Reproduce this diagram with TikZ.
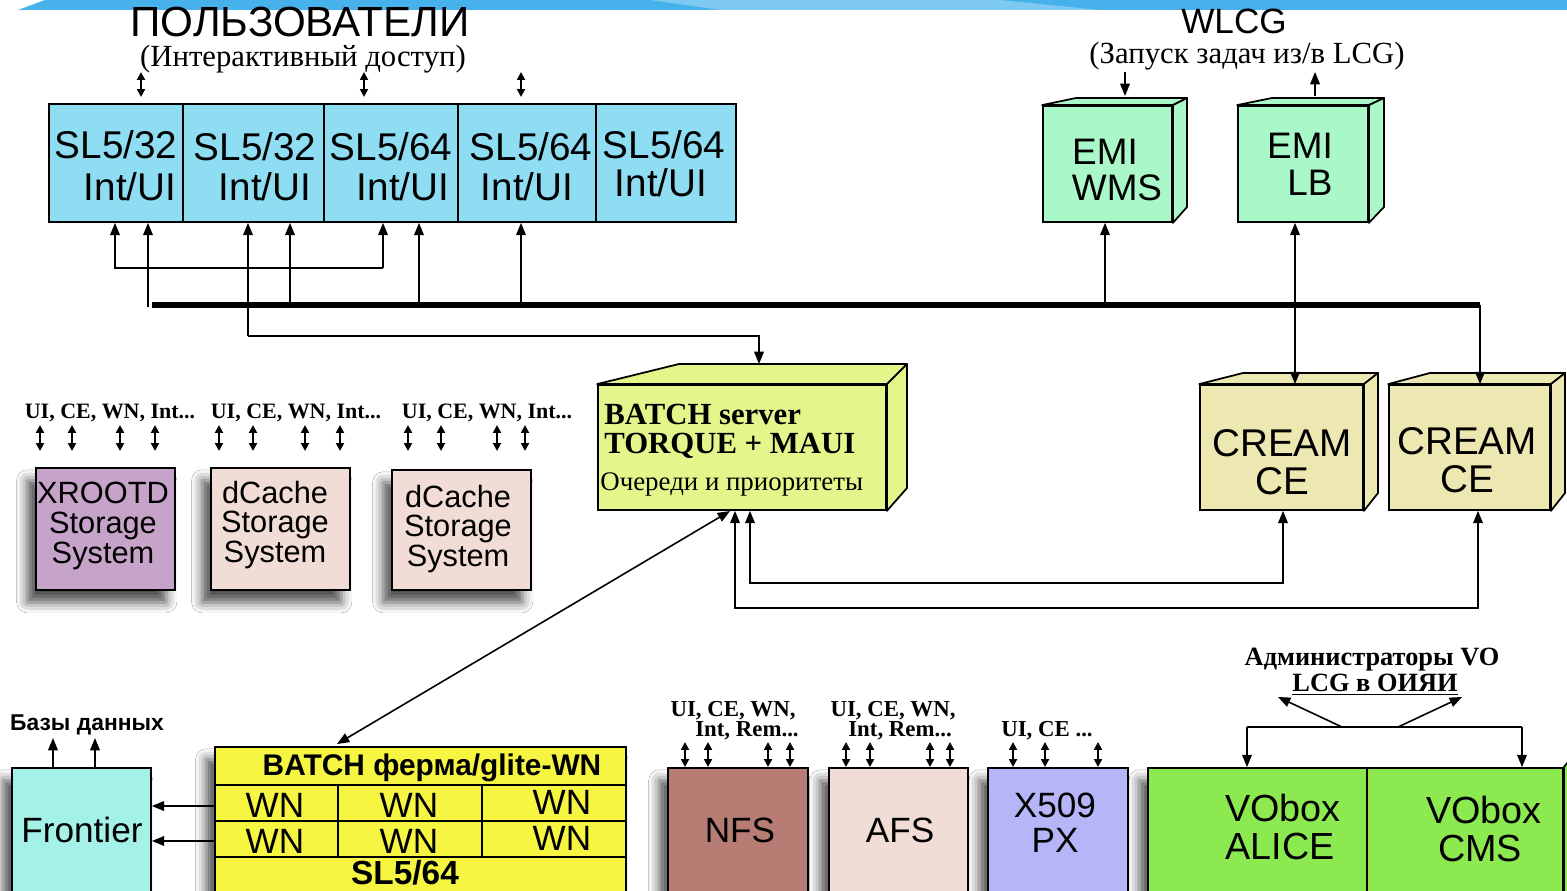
\documentclass[tikz,border=0pt]{standalone}
\usepackage{fontspec}
\setmainfont{Liberation Serif}
\setsansfont{Liberation Sans}
\usetikzlibrary{arrows.meta,fit,shadows.blur}
\definecolor{ucyan}{HTML}{8FDDF3}
\definecolor{emigreen}{HTML}{AAF7C9}
\definecolor{batchgreen}{HTML}{E2F68C}
\definecolor{creamc}{HTML}{EDE7B2}
\definecolor{xrootc}{HTML}{C6A3C9}
\definecolor{dcachec}{HTML}{F1DDD6}
\definecolor{frontc}{HTML}{A3F1E7}
\definecolor{farmc}{HTML}{F6F542}
\definecolor{nfsc}{HTML}{B77C74}
\definecolor{afsc}{HTML}{F1DDD6}
\definecolor{x509c}{HTML}{B5B5F8}
\definecolor{voc}{HTML}{8CE94F}
\definecolor{bandd}{HTML}{46B1EB}
\definecolor{bandl}{HTML}{7DC9F2}
\begin{document}
\begin{tikzpicture}[x=0.02cm,y=-0.02cm,
  box/.style={draw=black,line width=1pt,inner sep=0pt},
  face/.style={draw=black,line width=1pt,line join=round},
  shad/.style={blur shadow={shadow xshift=-5pt,shadow yshift=-7pt,shadow blur radius=6pt,shadow opacity=70}},
  conn/.style={line width=0.9pt,-{Triangle[length=7pt,width=5.5pt]}},
  dconn/.style={line width=0.9pt,{Triangle[length=7pt,width=5.5pt]}-{Triangle[length=7pt,width=5.5pt]}},
  sdbl/.style={line width=1.1pt,{Triangle[length=4.5pt,width=4.5pt]}-{Triangle[length=4.5pt,width=4.5pt]}},
  plain/.style={line width=0.9pt},
  bus/.style={line width=3.6pt},
  txt/.style={inner sep=0pt,font=\sffamily\fontsize{#1}{#1}\selectfont},
  txtb/.style={inner sep=0pt,font=\sffamily\bfseries\fontsize{#1}{#1}\selectfont},
  ser/.style={inner sep=0pt,font=\rmfamily\fontsize{#1}{#1}\selectfont},
  serb/.style={inner sep=0pt,font=\rmfamily\bfseries\fontsize{#1}{#1}\selectfont},
  stor/.style={inner sep=0pt,align=center,font=\sffamily\fontsize{17.5}{17}\selectfont},
]
\useasboundingbox (0,0) rectangle (1567,891);
\fill[white] (0,0) rectangle (1567,891);
% top band
\fill[bandd] (18,10) -- (45,0) -- (1567,0) -- (1567,10) -- cycle;
\fill[bandl] (650,0) -- (1000,0) -- (1100,10) -- (720,10) -- cycle;

% titles
\node[txt=24] (users) at (300,22) {ПОЛЬЗОВАТЕЛИ};
\node[ser=17.5] (usersub) at (303,59) {(Интерактивный доступ)};
\node[txt=20] (wlcg) at (1234,21) {WLCG};
\node[ser=17.5] (wlcgsub) at (1247,56) {(Запуск задач из/в LCG)};

% top row of UI machines
\node[box,fill=ucyan,fit={(49,104)(183,222)}] (c1) {};
\node[box,fill=ucyan,fit={(183,104)(324,222)}] (c2) {};
\node[box,fill=ucyan,fit={(324,104)(458,222)}] (c3) {};
\node[box,fill=ucyan,fit={(458,104)(596,222)}] (c4) {};
\node[box,fill=ucyan,fit={(596,104)(736,222)}] (c5) {};
\node[txt=22] (c1a) at (116,145) {SL5/32};
\node[txt=22] (c1b) at (130,187) {Int/UI};
\node[txt=22] (c2a) at (255,147) {SL5/32};
\node[txt=22] (c2b) at (265,187) {Int/UI};
\node[txt=22] (c3a) at (391,147) {SL5/64};
\node[txt=22] (c3b) at (403,187) {Int/UI};
\node[txt=22] (c4a) at (531,147) {SL5/64};
\node[txt=22] (c4b) at (527,187) {Int/UI};
\node[txt=22] (c5a) at (664,145) {SL5/64};
\node[txt=22] (c5b) at (661,183) {Int/UI};

% user access arrows
\foreach \x [count=\i] in {141,364,521} {
  \coordinate (ua\i) at (\x,72);
  \draw[sdbl] (ua\i) -- ++(0,25);
}

% EMI boxes (3D)
\node[box,fill=emigreen,fit={(1043,106)(1172,222)}] (wms) {};
\filldraw[face,fill=emigreen] (wms.north west) -- (1076,98) -- (1187,98) -- (wms.north east) -- cycle;
\filldraw[face,fill=emigreen] (wms.north east) -- (1187,98) -- (1187,207) -- (wms.south east) -- cycle;
\node[txt=21] (wmsa) at (1105,152) {EMI};
\node[txt=21] (wmsb) at (1117,188) {WMS};

\node[box,fill=emigreen,fit={(1238,106)(1368,222)}] (lb) {};
\filldraw[face,fill=emigreen] (lb.north west) -- (1272,98) -- (1384,98) -- (lb.north east) -- cycle;
\filldraw[face,fill=emigreen] (lb.north east) -- (1384,98) -- (1384,207) -- (lb.south east) -- cycle;
\node[txt=21] (lba) at (1300,146) {EMI};
\node[txt=21] (lbb) at (1310,183) {LB};

\coordinate (w1) at (1125,72);
\draw[conn] (w1) -- (w1 |- 0,96);
\coordinate (w2) at (1315,72);
\draw[conn] (w2 |- 0,96) -- (w2);

% BATCH server (3D)
\node[box,fill=batchgreen,fit={(598,385)(886,510)}] (bs) {};
\coordinate (bbl) at (679,364);
\filldraw[face,fill=batchgreen] (bs.north west) -- (bbl) -- (907,364) -- (bs.north east) -- cycle;
\filldraw[face,fill=batchgreen] (bs.north east) -- (907,364) -- (907,488) -- (bs.south east) -- cycle;
\node[serb=17.5,anchor=west] (bsa) at (604,414) {BATCH server};
\node[serb=17.5,anchor=west] (bsb) at (604,446) {TORQUE + MAUI};
\node[ser=15.3,anchor=west] (bsc) at (600,484) {Очереди и приоритеты};

% CREAM CEs (3D)
\node[box,fill=creamc,fit={(1200,385)(1363,510)}] (cr1) {};
\filldraw[face,fill=creamc] (cr1.north west) -- (1243,373) -- (1378,373) -- (cr1.north east) -- cycle;
\filldraw[face,fill=creamc] (cr1.north east) -- (1378,373) -- (1378,493) -- (cr1.south east) -- cycle;
\node[txt=22] (cr1a) at (1282,443) {CREAM};
\node[txt=22] (cr1b) at (1282,481) {CE};

\node[box,fill=creamc,fit={(1389,385)(1550,510)}] (cr2) {};
\filldraw[face,fill=creamc] (cr2.north west) -- (1430,373) -- (1565,373) -- (cr2.north east) -- cycle;
\filldraw[face,fill=creamc] (cr2.north east) -- (1565,373) -- (1565,493) -- (cr2.south east) -- cycle;
\node[txt=22] (cr2a) at (1467,441) {CREAM};
\node[txt=22] (cr2b) at (1467,479) {CE};

% bus and connections
\coordinate (busL) at (152,305);
\coordinate (busR) at (1480,305);
\draw[bus] (busL) -- (busR);
\coordinate (t1) at (148,307);
\coordinate (t2) at (290,305);
\coordinate (t3) at (419,305);
\coordinate (t4) at (521,305);
\draw[conn] (t1) -- (t1 |- c1.south);
\draw[conn] (t2) -- (t2 |- c2.south);
\draw[conn] (t3) -- (t3 |- c3.south);
\draw[conn] (t4) -- (t4 |- c4.south);
\coordinate (l1) at (115,268);
\coordinate (l2) at (383,268);
\draw[conn] (l2) -- (l2 |- c3.south);
\draw[conn] (l2) -- (l1) -- (l1 |- c1.south);
\coordinate (k1) at (248,336);
\coordinate (k2) at (759,336);
\draw[conn] (k1) -- (k1 |- c2.south);
\draw[conn] (k1) -- (k2) -- (k2 |- bbl);
\coordinate (t5) at (1105,305);
\draw[conn] (t5) -- (t5 |- wms.south);
\coordinate (t6) at (1295,305);
\draw[dconn] (t6 |- lb.south) -- (t6 |- cr1.north);
\draw[conn] (busR) -- (busR |- cr2.north);

% batch <-> CREAM loops
\coordinate (m1) at (1283,583);
\coordinate (m2) at (750,583);
\draw[dconn] (m1 |- cr1.south) -- (m1) -- (m2) -- (m2 |- bs.south);
\coordinate (n1) at (1478,608);
\coordinate (n2) at (735,608);
\draw[dconn] (n1 |- cr2.south) -- (n1) -- (n2) -- (n2 |- bs.south);

% storage systems
\node[serb=12.5] (sl1) at (110,413) {UI, CE, WN, Int...};
\node[serb=12.5] (sl2) at (296,413) {UI, CE, WN, Int...};
\node[serb=12.5] (sl3) at (487,413) {UI, CE, WN, Int...};
\foreach \x [count=\i] in {40,72,120,155,219,253,305,340,408,441,497,525} {
  \coordinate (sa\i) at (\x,425);
  \draw[sdbl] (sa\i) -- ++(0,26);
}
\node[box,fill=xrootc,shad,fit={(36,468)(175,590)}] (xr) {};
\node[box,fill=dcachec,shad,fit={(211,468)(350,590)}] (dc1) {};
\node[box,fill=dcachec,shad,fit={(392,470)(531,590)}] (dc2) {};
\node[stor] (xrt) at (103,526) {XROOTD\\Storage\\System};
\node[stor] (dc1t) at (275,525) {dCache\\Storage\\System};
\node[stor] (dc2t) at (458,529) {dCache\\Storage\\System};

% Frontier and batch farm
\node[txtb=13] (dbl) at (87,725) {Базы данных};
\node[box,fill=frontc,shad,fit={(12,768)(151,896)}] (fr) {};
\node[txt=20] (fra) at (82,830) {Frontier};
\coordinate (db1) at (53,738);
\coordinate (db2) at (95,738);
\draw[conn] (db1 |- fr.north) -- (db1);
\draw[conn] (db2 |- fr.north) -- (db2);

\node[box,fill=farmc,shad,fit={(215,747)(626,896)}] (farm) {};
\draw[line width=1pt] (215,785) -- (626,785);
\draw[line width=1pt] (215,821) -- (626,821);
\draw[line width=1pt] (215,857) -- (626,857);
\draw[line width=1pt] (338,785) -- (338,857);
\draw[line width=1pt] (482,785) -- (482,857);
\node[txtb=17] (farmt) at (432,768) {BATCH ферма/glite-WN};
\node[txt=20] (wn1) at (275,805) {WN};
\node[txt=20] (wn2) at (409,805) {WN};
\node[txt=20] (wn3) at (562,802) {WN};
\node[txt=20] (wn4) at (275,841) {WN};
\node[txt=20] (wn5) at (409,841) {WN};
\node[txt=20] (wn6) at (562,838) {WN};
\node[txtb=19] (farmb) at (405,873) {SL5/64};
\coordinate (f1) at (215,806);
\coordinate (f2) at (215,841);
\draw[conn] (f1) -- (f1 -| fr.east);
\draw[conn] (f2) -- (f2 -| fr.east);

\coordinate (d1) at (730,511);
\coordinate (d2) at (337,744);
\draw[dconn] (d1) -- (d2);

% NFS / AFS / X509
\node[serb=13] (nl1) at (733,711) {UI, CE, WN,};
\node[serb=13] (nl2) at (747,731) {Int, Rem...};
\node[serb=13] (al1) at (893,711) {UI, CE, WN,};
\node[serb=13] (al2) at (900,731) {Int, Rem...};
\node[serb=13] (xl1) at (1047,731) {UI, CE ...};
\foreach \x [count=\i] in {685,708,768,790,846,870,930,950,1013,1045,1098} {
  \coordinate (ba\i) at (\x,742);
  \draw[sdbl] (ba\i) -- ++(0,25);
}
\node[box,fill=nfsc,shad,fit={(668,768)(808,896)}] (nfs) {};
\node[box,fill=afsc,shad,fit={(829,768)(968,896)}] (afs) {};
\node[box,fill=x509c,shad,fit={(988,768)(1128,896)}] (px) {};
\node[txt=20] (nfsa) at (740,830) {NFS};
\node[txt=20] (afsa) at (900,830) {AFS};
\node[txt=20] (pxa) at (1055,805) {X509};
\node[txt=20] (pxb) at (1055,840) {PX};

% VO boxes
\node[serb=15] (voa) at (1372,660) {Администраторы VO};
\node[serb=15] (vob) at (1375,685) {\underline{LCG в ОИЯИ}};
\node[box,fill=voc,shad,fit={(1148,768)(1563,896)}] (vo) {};
\filldraw[face,fill=voc] (vo.north east) -- (1568,762) -- (1568,896) -- (vo.south east) -- cycle;
\draw[line width=1pt] (1367,768) -- (1367,896);
\node[txt=21.5] (vo1a) at (1283,808) {VObox};
\node[txt=21.5] (vo1b) at (1280,846) {ALICE};
\node[txt=21.5] (vo2a) at (1484,810) {VObox};
\node[txt=21.5] (vo2b) at (1480,848) {CMS};
\coordinate (v1) at (1247,727);
\coordinate (v2) at (1522,727);
\coordinate (v3) at (1342,727);
\coordinate (v4) at (1398,727);
\draw[plain] (v1) -- (v2);
\draw[conn] (v1) -- (v1 |- vo.north);
\draw[conn] (v2) -- (v2 |- vo.north);
\draw[conn] (v3) -- (1278,697);
\draw[conn] (v4) -- (1462,697);
\end{tikzpicture}
\end{document}
